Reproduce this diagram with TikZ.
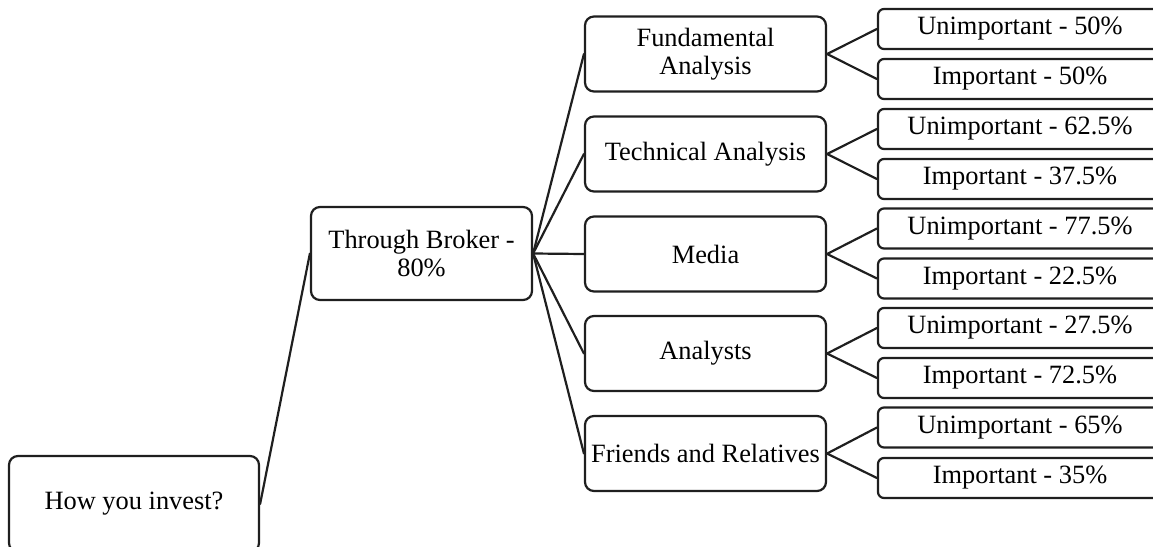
\documentclass[tikz,border=0pt]{standalone}
\usepackage{fontspec}
\setmainfont{Liberation Serif}
\begin{document}
\begin{tikzpicture}[x=1pt,y=-1pt,
  ink/.style={draw=black!88, line width=2.2pt},
  box/.style={ink, rounded corners=9pt, fill=white, align=center, inner sep=0pt,
              font=\fontsize{26.4}{28}\selectfont},
  rootbox/.style={box, minimum width=250pt, minimum height=96pt},
  midbox/.style={box, minimum width=221pt, minimum height=93pt},
  topicbox/.style={box, minimum width=241pt, minimum height=75pt},
  leafbox/.style={box, rounded corners=6pt, minimum width=284pt, minimum height=40pt},
  link/.style={ink, line cap=round}]
\useasboundingbox (0,0) rectangle (1153,546);

% tree nodes
\node[rootbox] (root) at (134,504) {How you invest?};
\node[midbox] (broker) at (421.5,253.5) {Through Broker -\\80\%};

\node[topicbox] (fa) at (705.5,54)  {Fundamental\\Analysis};
\node[topicbox] (ta) at (705.5,154) {Technical Analysis};
\node[topicbox] (me) at (705.5,254) {Media};
\node[topicbox] (an) at (705.5,353.5) {Analysts};
\node[topicbox] (fr) at (705.5,453.5) {Friends and Relatives};

\node[leafbox] (fa1) at (1020,29)    {Unimportant - 50\%};
\node[leafbox] (fa2) at (1020,79)    {Important - 50\%};
\node[leafbox] (ta1) at (1020,129)   {Unimportant - 62.5\%};
\node[leafbox] (ta2) at (1020,179)   {Important - 37.5\%};
\node[leafbox] (me1) at (1020,228.5) {Unimportant - 77.5\%};
\node[leafbox] (me2) at (1020,278.5) {Important - 22.5\%};
\node[leafbox] (an1) at (1020,328)   {Unimportant - 27.5\%};
\node[leafbox] (an2) at (1020,378)   {Important - 72.5\%};
\node[leafbox] (fr1) at (1020,427.5) {Unimportant - 65\%};
\node[leafbox] (fr2) at (1020,478)   {Important - 35\%};

% connectors
\draw[link] (root.east) -- (broker.west);
\foreach \t in {fa,ta,me,an,fr}{
  \draw[link] (broker.east) -- (\t.west);
  \draw[link] (\t.east) -- (\t1.west);
  \draw[link] (\t.east) -- (\t2.west);
}
\end{tikzpicture}
\end{document}
